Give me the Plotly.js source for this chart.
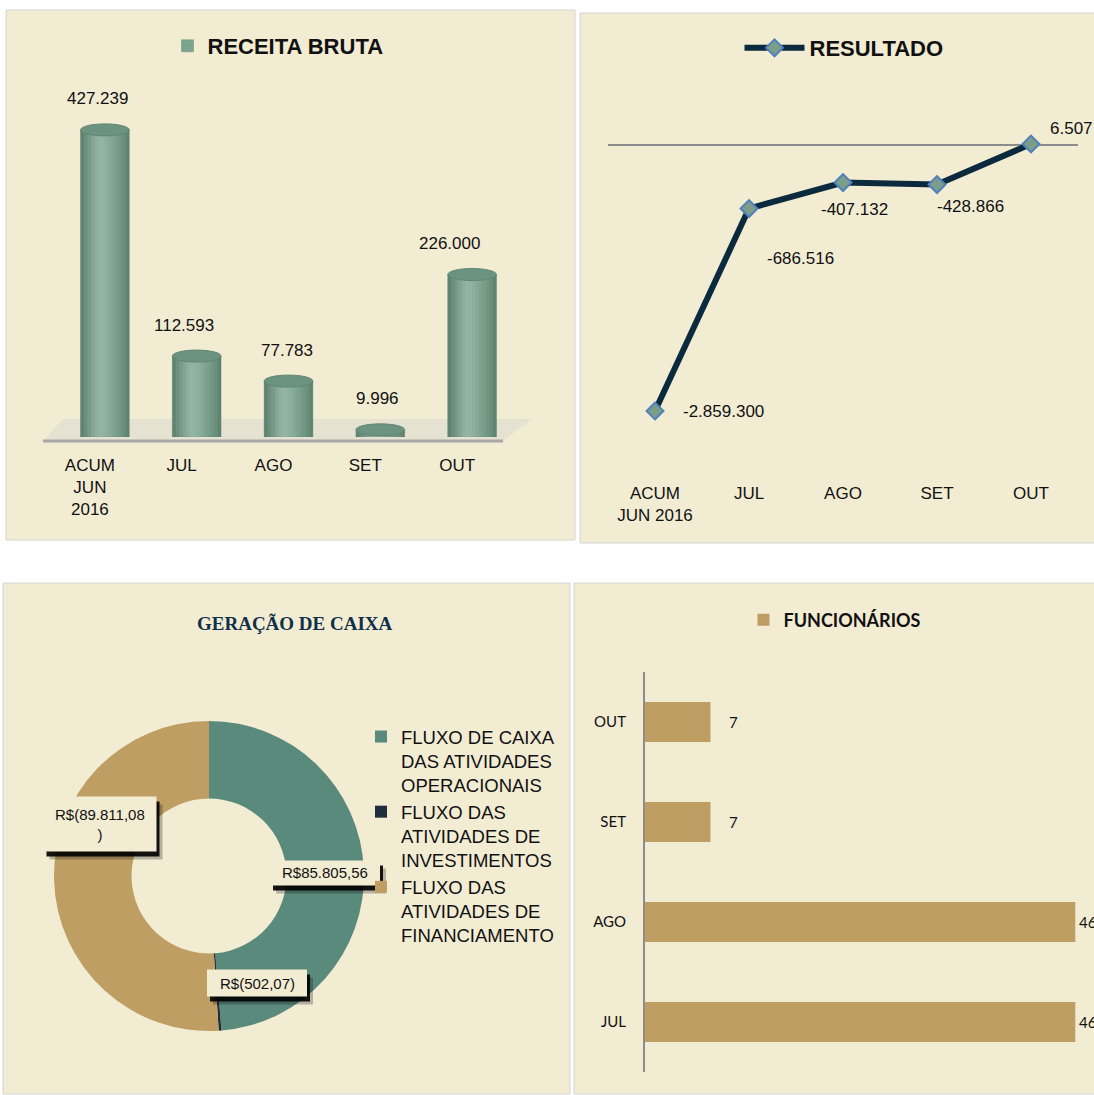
<!DOCTYPE html>
<html><head><meta charset="utf-8">
<script src="https://cdn.plot.ly/plotly-3.0.1.min.js"></script>
<style>html,body{margin:0;padding:0;background:#fff}#chart{width:1094px;height:1095px}</style>
</head><body><div id="chart"></div>
<script>
// ---------- DATA ----------
const receitaCategorias = ['ACUM<br>JUN<br>2016', 'JUL', 'AGO', 'SET', 'OUT'];
const receitaValores = [427239, 112593, 77783, 9996, 226000];

const resultadoCategorias = ['ACUM<br>JUN 2016', 'JUL', 'AGO', 'SET', 'OUT'];
const resultadoValores = [-2859300, -686516, -407132, -428866, 6507];

const caixaRotulos = [
  'FLUXO DE CAIXA<br>DAS ATIVIDADES<br>OPERACIONAIS',
  'FLUXO DAS<br>ATIVIDADES DE<br>INVESTIMENTOS',
  'FLUXO DAS<br>ATIVIDADES DE<br>FINANCIAMENTO'
];
const caixaValores = [85805.56, -502.07, -89811.08];

const funcCategorias = ['JUL', 'AGO', 'SET', 'OUT'];
const funcValores = [46, 46, 7, 7];

// ---------- HELPERS ----------
const W = 1094, H = 1095;
const px = x => x / W;
const py = y => 1 - y / H;
const BG = '#F2ECD3';
const SANS = 'Liberation Sans, Arial, sans-serif';
const CAL = 'Lato, Open Sans, sans-serif';

function fmtMil(v) {
  const s = Math.abs(Math.round(v)).toString().replace(/\B(?=(\d{3})+(?!\d))/g, '.');
  return (v < 0 ? '-' : '') + s;
}
function fmtBRL(v) {
  const parts = Math.abs(v).toFixed(2).split('.');
  const s = parts[0].replace(/\B(?=(\d{3})+(?!\d))/g, '.') + ',' + parts[1];
  return v < 0 ? 'R$(' + s + ')' : 'R$' + s;
}

// ---------- STYLE (label placement) ----------
const receitaLabelDx = [-7, -13, -2, -3, -23];
const resultadoLabelDx = [68, 51, 11, 33, 40];
const resultadoLabelDy = [0, -50, -27, -22, 16];
const caixaBoxes = [ // center px, width, height, wrap
  {cx: 325, cy: 873, w: 110, h: 25, wrap: false},
  {cx: 257, cy: 983, w: 100, h: 27, wrap: false},
  {cx: 100, cy: 824, w: 113, h: 55, wrap: true}
];
const funcLabelDx = [2, 2, 17, 17];

// ---------- TRACES ----------
const traces = [];
traces.push({
  type: 'bar', name: 'RECEITA BRUTA', legend: 'legend',
  x: receitaCategorias, y: receitaValores, xaxis: 'x', yaxis: 'y',
  width: 0.53,
  marker: {color: '#7BA38D', line: {color: '#678D79', width: 0.5}},
  hoverinfo: 'x+y'
});
traces.push({
  type: 'scatter', mode: 'lines+markers', name: 'RESULTADO', legend: 'legend2',
  x: resultadoCategorias, y: resultadoValores, xaxis: 'x2', yaxis: 'y2',
  line: {color: '#0B2A3E', width: 6},
  marker: {symbol: 'diamond', size: 13, color: '#7B9E8A', line: {color: '#4F81BD', width: 2}},
  cliponaxis: false
});
traces.push({
  type: 'pie', name: 'GERAÇÃO DE CAIXA', legend: 'legend3',
  labels: caixaRotulos, values: caixaValores.map(Math.abs),
  customdata: caixaValores.map(fmtBRL),
  hovertemplate: '%{label}<br>%{customdata}<extra></extra>',
  domain: {x: [px(54), px(364)], y: [py(1031), py(721)]},
  hole: 0.5, sort: false, direction: 'clockwise', rotation: 0,
  textinfo: 'none',
  marker: {colors: ['#5A8A7C', '#1F2D3D', '#BE9E63'], line: {width: 0}}
});
traces.push({
  type: 'bar', orientation: 'h', name: 'FUNCIONÁRIOS', legend: 'legend4',
  y: funcCategorias, x: funcValores, xaxis: 'x3', yaxis: 'y3',
  width: 0.4,
  marker: {color: '#BE9E63', line: {width: 0}}
});

// ---------- SHAPES ----------
const shapes = [
  {type: 'rect', xref: 'paper', yref: 'paper', x0: px(6), x1: px(575), y0: py(540), y1: py(10), fillcolor: BG, line: {color: '#D4D4D4', width: 1}, layer: 'below'},
  {type: 'rect', xref: 'paper', yref: 'paper', x0: px(580), x1: px(1100), y0: py(543), y1: py(13), fillcolor: BG, line: {color: '#D4D4D4', width: 1}, layer: 'below'},
  {type: 'rect', xref: 'paper', yref: 'paper', x0: px(3), x1: px(570), y0: py(1094), y1: py(583), fillcolor: BG, line: {color: '#D4D4D4', width: 1}, layer: 'below'},
  {type: 'rect', xref: 'paper', yref: 'paper', x0: px(574), x1: px(1100), y0: py(1094), y1: py(583), fillcolor: BG, line: {color: '#D4D4D4', width: 1}, layer: 'below'},
  // 3D floor of the bar chart
  {type: 'path', xref: 'paper', yref: 'paper', layer: 'below',
   path: `M ${px(63)},${py(419)} L ${px(532)},${py(419)} L ${px(503)},${py(441)} L ${px(43)},${py(441)} Z`,
   fillcolor: '#E6E2D2', line: {width: 0}},
  {type: 'line', xref: 'paper', yref: 'paper', layer: 'below',
   x0: px(43), x1: px(503), y0: py(441), y1: py(441), line: {color: '#A8A8A8', width: 3}}
];
// cylinder shading (smooth strips) and caps, built from the data
const half = 0.265, NS = 14;
receitaValores.forEach((v, i) => {
  for (let k = 0; k < NS; k++) {
    const t = (k + 0.5) / NS;
    const dark = 0.42 * Math.pow(1 - Math.sin(Math.PI * t), 1.6);
    const light = 0.2 * Math.exp(-Math.pow((t - 0.42) / 0.2, 2));
    const x0 = i - half + k * (2 * half / NS), x1 = x0 + 2 * half / NS;
    if (dark > 0.01) shapes.push({type: 'rect', xref: 'x', yref: 'y', x0: x0, x1: x1, y0: 0, y1: v,
      fillcolor: `rgba(45,75,60,${dark.toFixed(3)})`, line: {width: 0}, layer: 'above'});
    if (light > 0.01) shapes.push({type: 'rect', xref: 'x', yref: 'y', x0: x0, x1: x1, y0: 0, y1: v,
      fillcolor: `rgba(255,255,255,${light.toFixed(3)})`, line: {width: 0}, layer: 'above'});
  }
  // bottom rounding
  shapes.push({type: 'circle', xref: 'x', yref: 'y', x0: i - half + 0.01, x1: i + half - 0.01,
    ysizemode: 'pixel', yanchor: 0, y0: -5, y1: 2,
    fillcolor: '#77A089', line: {width: 0}, layer: 'below'});
  // top cap
  shapes.push({type: 'circle', xref: 'x', yref: 'y', x0: i - half, x1: i + half,
    ysizemode: 'pixel', yanchor: v, y0: -6, y1: 6,
    fillcolor: '#6C937F', line: {color: '#5F8672', width: 1}, layer: 'above'});
});
// label boxes with drop shadows for the donut
caixaBoxes.forEach(b => {
  const rect = (dx, dy, color) => ({type: 'rect', xref: 'paper', yref: 'paper', layer: 'above',
    x0: px(b.cx - b.w / 2 + dx), x1: px(b.cx + b.w / 2 + dx),
    y0: py(b.cy + b.h / 2 + dy), y1: py(b.cy - b.h / 2 + dy),
    fillcolor: color, line: {width: 0}});
  shapes.push(rect(6, 8, 'rgba(0,0,0,0.25)'));
  shapes.push(rect(3, 5, 'rgba(0,0,0,0.9)'));
  shapes.push(rect(0, 0, BG));
});

// ---------- ANNOTATIONS ----------
const annotations = [];
receitaValores.forEach((v, i) => {
  annotations.push({xref: 'x', yref: 'y', x: i, y: v, text: fmtMil(v), showarrow: false,
    xanchor: 'center', yanchor: 'middle',
    xshift: receitaLabelDx[i], yshift: 31, font: {family: SANS, size: 17, color: '#111'}});
});
resultadoValores.forEach((v, i) => {
  annotations.push({xref: 'x2', yref: 'y2', x: i, y: v, text: fmtMil(v), showarrow: false,
    xanchor: 'center', yanchor: 'middle',
    xshift: resultadoLabelDx[i], yshift: resultadoLabelDy[i], font: {family: SANS, size: 17, color: '#111'}});
});
caixaValores.forEach((v, i) => {
  const b = caixaBoxes[i];
  let t = fmtBRL(v);
  if (b.wrap) t = t.replace(/\)$/, '<br>)');
  annotations.push({xref: 'paper', yref: 'paper', x: px(b.cx), y: py(b.cy), showarrow: false,
    xanchor: 'center', yanchor: 'middle', text: t,
    font: {family: SANS, size: 15, color: '#111'}});
});
funcValores.forEach((v, i) => {
  annotations.push({xref: 'x3', yref: 'y3', x: v, y: i, text: String(v), showarrow: false,
    xanchor: 'left', yanchor: 'middle', xshift: funcLabelDx[i], font: {family: CAL, size: 15, color: '#111'}});
});
annotations.push({xref: 'paper', yref: 'paper', x: px(295), y: py(623), text: 'GERAÇÃO DE CAIXA',
  xanchor: 'center', yanchor: 'middle',
  showarrow: false, font: {family: 'Liberation Serif, serif', size: 19, color: '#10304A', weight: 'bold'}});

// ---------- LAYOUT ----------
const noAxis = {showgrid: false, zeroline: false, showticklabels: false, showline: false, ticks: ''};
const layout = {
  width: W, height: H, margin: {l: 0, r: 0, t: 0, b: 0},
  paper_bgcolor: '#FFFFFF', plot_bgcolor: 'rgba(0,0,0,0)',
  separators: ',.',
  showlegend: true,
  xaxis: {domain: [px(59), px(518)], anchor: 'y', type: 'category', range: [-0.5, 4.5],
    showgrid: false, zeroline: false, showline: false, ticks: '',
    ticklabelstandoff: 16, ticklabelshift: -15,
    tickfont: {family: SANS, size: 17, color: '#111'}},
  yaxis: Object.assign({}, noAxis, {domain: [py(437), py(100)], anchor: 'x', range: [0, 468800]}),
  xaxis2: {domain: [px(608), px(1078)], anchor: 'y2', type: 'category', range: [-0.5, 4.5],
    showgrid: false, zeroline: false, showline: false, ticks: '', ticklabelstandoff: 6,
    tickfont: {family: SANS, size: 17, color: '#111'}},
  yaxis2: {domain: [py(475), py(110)], anchor: 'x2', range: [-3546116, 371429],
    showgrid: false, showticklabels: false, showline: false, ticks: '',
    zeroline: true, zerolinecolor: '#8C8C8C', zerolinewidth: 2},
  xaxis3: Object.assign({}, noAxis, {domain: [px(645), 1], anchor: 'y3', range: [0, 48.0]}),
  yaxis3: {domain: [py(1072), py(672)], anchor: 'x3', type: 'category', range: [-0.5, 3.5],
    showgrid: false, zeroline: false, showline: true, linecolor: '#8C8C8C', linewidth: 2,
    ticks: '', ticklabelstandoff: 14, tickfont: {family: CAL, size: 15, color: '#111'}},
  legend: {x: px(278), y: py(46), xanchor: 'center', yanchor: 'middle', bgcolor: 'rgba(0,0,0,0)',
    font: {family: SANS, size: 22, color: '#111', weight: 'bold'}},
  legend2: {x: px(844), y: py(48), xanchor: 'center', yanchor: 'middle', bgcolor: 'rgba(0,0,0,0)',
    itemwidth: 60, font: {family: SANS, size: 22, color: '#111', weight: 'bold'}},
  legend3: {x: px(361), y: py(718), xanchor: 'left', yanchor: 'top', bgcolor: 'rgba(0,0,0,0)',
    valign: 'top', font: {family: SANS, size: 18.5, color: '#111'}},
  legend4: {x: px(835), y: py(620), xanchor: 'center', yanchor: 'middle', bgcolor: 'rgba(0,0,0,0)',
    font: {family: CAL, size: 18, color: '#111', weight: 'bold'}},
  shapes: shapes,
  annotations: annotations
};

Plotly.newPlot('chart', traces, layout, {displayModeBar: false, staticPlot: true});
</script>
</body></html>
